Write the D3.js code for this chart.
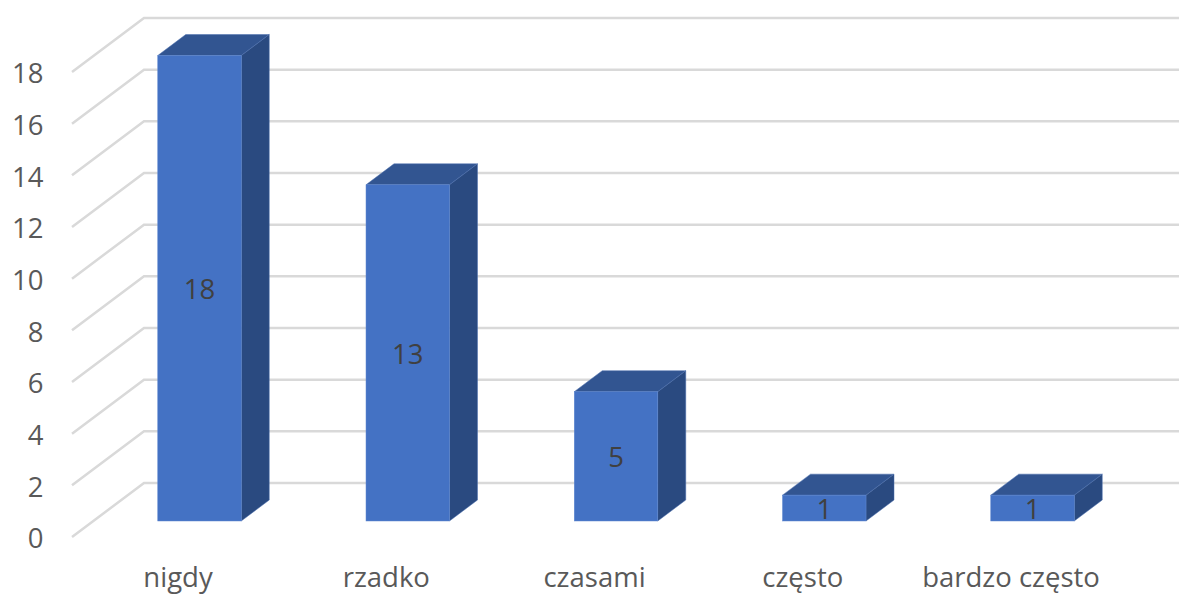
<!DOCTYPE html>
<html>
<head>
<meta charset="utf-8">
<script src="https://d3js.org/d3.v7.min.js"></script>
<style>
  html, body { margin: 0; padding: 0; background: #fff; }
  svg { display: block; }
  text { font-family: "Open Sans", sans-serif; }
  .axis path, .axis line { display: none; }
  .axis text { font-size: 27.5px; fill: #595959; }
  .grid { fill: none; stroke: #d9d9d9; stroke-width: 2.5; }
  .lab { font-size: 27.5px; fill: #404040; text-anchor: middle; }
</style>
</head>
<body>
<script>
var categories = ["nigdy", "rzadko", "czasami", "często", "bardzo często"];
var values = [18, 13, 5, 1, 1];
var yTicks = [0, 2, 4, 6, 8, 10, 12, 14, 16, 18];

var width = 1179, height = 594;

var svg = d3.select("body").append("svg")
    .attr("width", width)
    .attr("height", height);

// wall scale: where the tick meets the left edge of the floor
var yAxisScale = d3.scaleLinear().domain([0, 18]).range([537, 72]);
// bars stand a bit further in than that
var yBar = d3.scaleLinear().domain([0, 18]).range([521, 55.5]);
var x = d3.scalePoint().domain(categories).range([177.5, 1010.5]);

var wallDx = 72, wallDy = -54;   // floor depth
var barDx = 28, barDy = -21;     // bar depth
var barOffset = 22, barW = 83.5; // front face relative to the category label

// gridlines, slanted part then the back wall
svg.append("g").selectAll("path")
  .data(yTicks)
  .enter().append("path")
    .attr("class", "grid")
    .attr("d", function(d) {
      var y0 = yAxisScale(d);
      return d3.line()([[72, y0], [72 + wallDx, y0 + wallDy], [width, y0 + wallDy]]);
    });

svg.append("g")
    .attr("class", "axis")
    .attr("transform", "translate(43.5,2)")
    .call(d3.axisLeft(yAxisScale).tickValues(yTicks).tickSize(0).tickPadding(0))
    .call(function(g) { g.select(".domain").remove(); });

svg.append("g")
    .attr("class", "axis")
    .attr("transform", "translate(0,567)")
    .call(d3.axisBottom(x).tickSize(0).tickPadding(0))
    .call(function(g) { g.select(".domain").remove(); });

var bars = svg.append("g").selectAll("g")
  .data(categories)
  .enter().append("g");

function left(i) { return x(categories[i]) + barOffset - barW / 2; }

// top
bars.append("path")
    .attr("fill", "#325591")
    .attr("stroke", "#4a6eae")
    .attr("stroke-width", 0.5)
    .attr("d", function(d, i) {
      var l = left(i), t = yBar(values[i]);
      return d3.line()([[l, t], [l + barDx, t + barDy], [l + barW + barDx, t + barDy], [l + barW, t]]) + "Z";
    });

// side
bars.append("path")
    .attr("fill", "#2a4a80")
    .attr("stroke", "#4a6eae")
    .attr("stroke-width", 0.5)
    .attr("d", function(d, i) {
      var r = left(i) + barW, t = yBar(values[i]), b = yBar(0);
      return d3.line()([[r, t], [r + barDx, t + barDy], [r + barDx, b + barDy], [r, b]]) + "Z";
    });

// front
bars.append("rect")
    .attr("fill", "#4472c4")
    .attr("stroke", "#5f88d0")
    .attr("stroke-width", 0.5)
    .attr("x", function(d, i) { return left(i); })
    .attr("y", function(d, i) { return yBar(values[i]); })
    .attr("width", barW)
    .attr("height", function(d, i) { return yBar(0) - yBar(values[i]); });

bars.append("text")
    .attr("class", "lab")
    .attr("x", function(d, i) { return left(i) + barW / 2; })
    .attr("y", function(d, i) { return (yBar(values[i]) + yBar(0)) / 2 + 1; })
    .attr("dy", "0.35em")
    .text(function(d, i) { return values[i]; });
</script>
</body>
</html>
